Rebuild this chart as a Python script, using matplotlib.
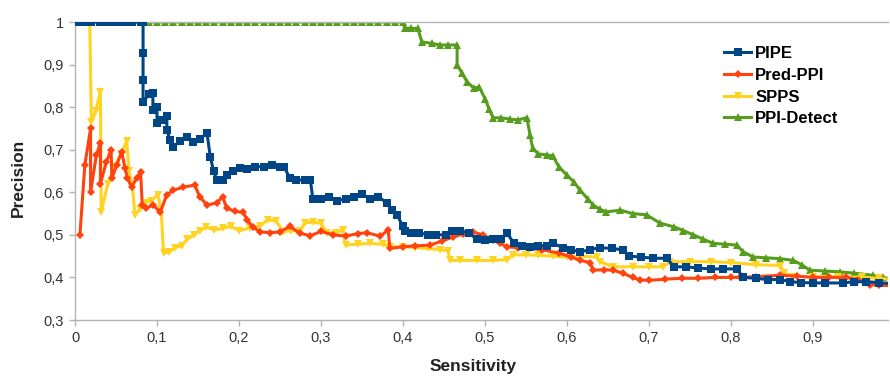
import matplotlib
matplotlib.use("Agg")
import matplotlib.pyplot as plt
from matplotlib.ticker import FuncFormatter

plt.rcParams["font.family"] = ["Liberation Sans", "DejaVu Sans"]

# precision / sensitivity curves
pipe_x = [0.0, 0.01, 0.02, 0.03, 0.04, 0.05, 0.06, 0.07, 0.08,
          0.083, 0.083, 0.083, 0.083, 0.09, 0.095,
          0.095, 0.1, 0.1, 0.106, 0.112, 0.112, 0.116, 0.12, 0.128, 0.137,
          0.144, 0.152, 0.161, 0.165, 0.169, 0.173, 0.18, 0.185, 0.193, 0.201,
          0.21, 0.22, 0.23, 0.24, 0.25, 0.255, 0.262, 0.27, 0.28, 0.287,
          0.29, 0.3, 0.31, 0.32, 0.33, 0.34, 0.35, 0.36, 0.37, 0.38,
          0.387, 0.393, 0.4, 0.403, 0.41, 0.42, 0.43, 0.44, 0.453, 0.46,
          0.47, 0.48, 0.49, 0.5, 0.51, 0.52, 0.527, 0.535, 0.545, 0.555,
          0.565, 0.575, 0.583, 0.595, 0.605, 0.616, 0.628, 0.64, 0.655, 0.668,
          0.675, 0.69, 0.705, 0.722, 0.73, 0.745, 0.76, 0.775, 0.79, 0.807,
          0.815, 0.83, 0.845, 0.86, 0.872, 0.885, 0.9, 0.915, 0.937, 0.95,
          0.965, 0.98, 1.0]
pipe_y = [1.0, 1.0, 1.0, 1.0, 1.0, 1.0, 1.0, 1.0, 1.0,
          1.0, 0.927, 0.864, 0.812, 0.83, 0.833,
          0.793, 0.80, 0.763, 0.77, 0.78, 0.746, 0.723, 0.707, 0.72, 0.73,
          0.718, 0.725, 0.739, 0.683, 0.65, 0.628, 0.63, 0.64, 0.65, 0.657,
          0.655, 0.66, 0.66, 0.665, 0.66, 0.66, 0.633, 0.63, 0.628, 0.63,
          0.585, 0.585, 0.59, 0.58, 0.585, 0.59, 0.595, 0.585, 0.59, 0.575,
          0.558, 0.546, 0.52, 0.51, 0.505, 0.505, 0.50, 0.50, 0.50, 0.51,
          0.51, 0.505, 0.49, 0.488, 0.49, 0.49, 0.505, 0.48, 0.475, 0.472,
          0.475, 0.475, 0.48, 0.47, 0.465, 0.46, 0.465, 0.47, 0.468, 0.465,
          0.45, 0.448, 0.445, 0.445, 0.425, 0.425, 0.422, 0.42, 0.42, 0.42,
          0.40, 0.398, 0.395, 0.395, 0.39, 0.388, 0.387, 0.387, 0.387, 0.39,
          0.39, 0.388, 0.385]

predppi_x = [0.006, 0.012, 0.019, 0.019, 0.026, 0.031, 0.031, 0.038, 0.044, 0.045,
             0.051, 0.057, 0.061, 0.064, 0.069, 0.075, 0.08, 0.082, 0.087, 0.095,
             0.104, 0.112, 0.12, 0.132, 0.146, 0.152, 0.161, 0.173, 0.18, 0.185,
             0.195, 0.205, 0.21, 0.217, 0.226, 0.238, 0.25, 0.262, 0.274, 0.287,
             0.30, 0.315, 0.33, 0.345, 0.356, 0.372, 0.382, 0.384, 0.40, 0.415,
             0.433, 0.447, 0.461, 0.473, 0.485, 0.497, 0.51, 0.518, 0.527, 0.54,
             0.555, 0.57, 0.59, 0.605, 0.616, 0.628, 0.632, 0.645, 0.656, 0.668,
             0.68, 0.689, 0.70, 0.72, 0.74, 0.76, 0.78, 0.80, 0.811, 0.83,
             0.86, 0.88, 0.9, 0.92, 0.94, 0.955, 0.97, 0.98, 1.0]
predppi_y = [0.50, 0.664, 0.75, 0.60, 0.687, 0.716, 0.62, 0.67, 0.70, 0.633,
             0.665, 0.695, 0.657, 0.633, 0.612, 0.633, 0.648, 0.57, 0.563, 0.57,
             0.554, 0.594, 0.605, 0.612, 0.617, 0.59, 0.57, 0.575, 0.59, 0.563,
             0.555, 0.553, 0.535, 0.518, 0.507, 0.505, 0.507, 0.52, 0.504, 0.498,
             0.508, 0.50, 0.497, 0.503, 0.505, 0.497, 0.511, 0.468, 0.472, 0.474,
             0.476, 0.485, 0.495, 0.502, 0.507, 0.50, 0.488, 0.48, 0.472, 0.47,
             0.468, 0.465, 0.457, 0.448, 0.44, 0.435, 0.417, 0.418, 0.417, 0.41,
             0.40, 0.394, 0.393, 0.396, 0.398, 0.398, 0.40, 0.40, 0.40, 0.402,
             0.405, 0.403, 0.40, 0.40, 0.40, 0.395, 0.383, 0.382, 0.38]

spps_x = [0.005, 0.012, 0.018, 0.02, 0.025, 0.031, 0.032, 0.04, 0.048, 0.056,
          0.063, 0.066, 0.07, 0.073, 0.079, 0.085, 0.093, 0.101, 0.105, 0.108,
          0.115, 0.122, 0.13, 0.137, 0.145, 0.152, 0.16, 0.17, 0.18, 0.19,
          0.2, 0.213, 0.225, 0.235, 0.245, 0.254, 0.264, 0.274, 0.28, 0.29,
          0.3, 0.307, 0.318, 0.327, 0.33, 0.345, 0.36, 0.375, 0.384, 0.4,
          0.415, 0.43, 0.445, 0.455, 0.457, 0.47, 0.49, 0.51, 0.527, 0.534,
          0.55, 0.565, 0.583, 0.6, 0.616, 0.636, 0.64, 0.656, 0.68, 0.7,
          0.717, 0.726, 0.75, 0.775, 0.8, 0.83, 0.86, 0.865, 0.876, 0.9,
          0.93, 0.96, 0.98, 1.0]
spps_y = [1.0, 1.0, 1.0, 0.765, 0.79, 0.836, 0.554, 0.62, 0.66, 0.69,
          0.72, 0.65, 0.615, 0.547, 0.56, 0.575, 0.58, 0.594, 0.56, 0.457,
          0.46, 0.47, 0.475, 0.49, 0.50, 0.51, 0.518, 0.512, 0.515, 0.52,
          0.51, 0.516, 0.52, 0.535, 0.533, 0.507, 0.51, 0.508, 0.528, 0.53,
          0.527, 0.505, 0.505, 0.511, 0.476, 0.478, 0.48, 0.478, 0.472, 0.472,
          0.47, 0.468, 0.465, 0.463, 0.44, 0.44, 0.44, 0.44, 0.442, 0.453,
          0.453, 0.452, 0.45, 0.447, 0.45, 0.448, 0.437, 0.425, 0.425, 0.425,
          0.425, 0.437, 0.437, 0.437, 0.435, 0.43, 0.428, 0.41, 0.402, 0.402,
          0.402, 0.40, 0.398, 0.395]

detect_x = [0.0, 0.01, 0.02, 0.03, 0.04, 0.05, 0.06, 0.07, 0.08, 0.09,
            0.1, 0.11, 0.12, 0.13, 0.14, 0.15, 0.16, 0.17, 0.18, 0.19,
            0.2, 0.21, 0.22, 0.23, 0.24, 0.25, 0.26, 0.27, 0.28, 0.29,
            0.3, 0.31, 0.32, 0.33, 0.34, 0.35, 0.36, 0.37, 0.38, 0.39,
            0.4, 0.402, 0.41, 0.418, 0.423, 0.435, 0.445, 0.455, 0.466, 0.466,
            0.472, 0.478, 0.486, 0.493, 0.5, 0.505, 0.51, 0.52, 0.53, 0.54,
            0.551, 0.555, 0.558, 0.565, 0.575, 0.583, 0.59, 0.6, 0.608, 0.616,
            0.625, 0.632, 0.64, 0.648, 0.665, 0.68, 0.697, 0.713, 0.73, 0.742,
            0.754, 0.766, 0.778, 0.793, 0.807, 0.815, 0.827, 0.843, 0.86, 0.876,
            0.886, 0.896, 0.915, 0.933, 0.95, 0.973, 0.985, 1.0]
detect_y = [1.0, 1.0, 1.0, 1.0, 1.0, 1.0, 1.0, 1.0, 1.0, 1.0,
            1.0, 1.0, 1.0, 1.0, 1.0, 1.0, 1.0, 1.0, 1.0, 1.0,
            1.0, 1.0, 1.0, 1.0, 1.0, 1.0, 1.0, 1.0, 1.0, 1.0,
            1.0, 1.0, 1.0, 1.0, 1.0, 1.0, 1.0, 1.0, 1.0, 1.0,
            1.0, 0.986, 0.985, 0.985, 0.953, 0.95, 0.946, 0.946, 0.946, 0.90,
            0.88, 0.86, 0.845, 0.847, 0.82, 0.795, 0.775, 0.775, 0.772, 0.77,
            0.775, 0.735, 0.704, 0.69, 0.688, 0.685, 0.66, 0.64, 0.625, 0.605,
            0.585, 0.57, 0.56, 0.554, 0.558, 0.55, 0.547, 0.528, 0.519, 0.51,
            0.50, 0.49, 0.48, 0.478, 0.476, 0.46, 0.448, 0.446, 0.444, 0.44,
            0.43, 0.417, 0.415, 0.413, 0.41, 0.405, 0.40, 0.395]

series = [
    ("PIPE", pipe_x, pipe_y, "#004586", "s", 5.6, 4),
    ("Pred-PPI", predppi_x, predppi_y, "#ff420e", "D", 4.4, 3),
    ("SPPS", spps_x, spps_y, "#ffd320", "v", 6.0, 2),
    ("PPI-Detect", detect_x, detect_y, "#579d1c", "^", 6.0, 1),
]

fig = plt.figure(figsize=(8.9, 3.76), dpi=100)
ax = fig.add_axes([75 / 890, 56 / 376, 813 / 890, 298 / 376])

for name, xs, ys, color, marker, ms, z in series:
    ax.plot(xs, ys, color=color, linewidth=2.2, marker=marker, markersize=ms,
            markeredgewidth=0, label=name, zorder=z)

ax.set_xlim(0, 813 / 820)
ax.set_ylim(0.3, 1.0)
ax.set_xticks([0, 0.1, 0.2, 0.3, 0.4, 0.5, 0.6, 0.7, 0.8, 0.9])
ax.set_yticks([0.3, 0.4, 0.5, 0.6, 0.7, 0.8, 0.9, 1.0])
fmt = FuncFormatter(lambda v, pos: ("%g" % round(v, 2)).replace(".", ","))
ax.xaxis.set_major_formatter(fmt)
ax.yaxis.set_major_formatter(fmt)

grey = "#b3b3b3"
for side in ["left", "bottom", "top"]:
    ax.spines[side].set_color(grey)
    ax.spines[side].set_linewidth(1.0)
ax.spines["right"].set_visible(False)
ax.tick_params(axis="both", direction="out", length=4, width=1.0, color=grey,
               labelsize=10.5, labelcolor="#333333", pad=4)

fig.text(473 / 890, 1 - 367 / 376, "Sensitivity", ha="center", va="center",
         fontsize=12.5, fontweight="bold", color="#222222")
fig.text(18 / 890, 1 - 178 / 376, "Precision", ha="center", va="center",
         rotation=90, fontsize=12.5, fontweight="bold", color="#222222")

fig.legend(loc="upper left", bbox_to_anchor=(716 / 890, 1 - 38 / 376),
           frameon=False, borderpad=0, labelspacing=0.4,
           handlelength=1.6, handletextpad=0.25,
           prop={"weight": "bold", "size": 12})

fig.savefig("out.png", dpi=100)
